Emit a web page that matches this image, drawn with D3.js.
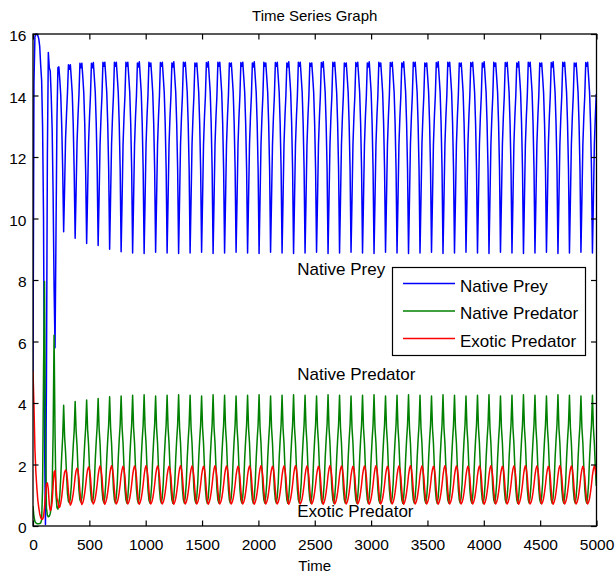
<!DOCTYPE html>
<html>
<head>
<meta charset="utf-8">
<script src="https://cdn.jsdelivr.net/npm/d3@7"></script>
<style>
  html, body { margin: 0; padding: 0; background: #fff; }
  svg { display: block; font-family: "Liberation Sans", Arial, Helvetica, sans-serif; }
</style>
</head>
<body>
<svg id="chart" width="615" height="581"></svg>
<script>
// Population samples on a uniform time grid (one value every timeStep units).
const timeStep = 8.5;

const preyValues = [
  5.0, 14.4, 15.9, 16.0, 16.0, 15.95, 15.85, 15.6, 15.0, 14.5, 13.0, 10.0, 3.0,
  0.05, 4.5, 12.0, 15.4, 14.9, 14.8, 14.0, 12.9, 10.8, 7.8, 5.8, 9.5, 13.2,
  14.9, 14.93, 14.5, 14.0, 13.0, 11.6, 9.57, 11.0, 12.6, 13.4, 14.1, 15.0,
  14.85, 15.0, 14.55, 14.05, 13.05, 11.5, 9.36, 10.9, 12.5, 13.35, 14.05, 15.05,
  14.9, 15.05, 14.6, 14.1, 13.1, 11.5, 9.19, 10.8, 12.45, 13.3, 14.0, 15.05,
  14.9, 15.07, 14.6, 14.1, 13.1, 11.6, 9.12, 10.7, 12.4, 13.3, 14.0, 15.08,
  14.95, 15.08, 14.6, 14.1, 13.1, 11.6, 9.0, 10.7, 12.4, 13.3, 14.0, 15.08,
  14.95, 15.08, 14.6, 14.1, 13.1, 11.6, 8.92, 10.6, 12.4, 13.3, 14.0, 15.08,
  14.95, 15.08, 14.6, 14.1, 13.1, 11.6, 8.88, 10.6, 12.4, 13.3, 14.0, 15.06,
  14.93, 15.1, 14.6, 14.1, 13.1, 11.6, 8.86, 10.6, 12.4, 13.3, 14.0, 15.08,
  14.95, 15.06, 14.6, 14.1, 13.1, 11.6, 8.9, 10.6, 12.4, 13.3, 14.0, 15.07,
  14.95, 15.08, 14.6, 14.1, 13.1, 11.6, 8.88, 10.6, 12.4, 13.3, 14.0, 15.06,
  14.93, 15.1, 14.6, 14.1, 13.1, 11.6, 8.86, 10.6, 12.4, 13.3, 14.0, 15.08,
  14.95, 15.08, 14.6, 14.1, 13.1, 11.6, 8.88, 10.6, 12.4, 13.3, 14.0, 15.06,
  14.95, 15.06, 14.6, 14.1, 13.1, 11.6, 8.9, 10.6, 12.4, 13.3, 14.0, 15.07,
  14.93, 15.1, 14.6, 14.1, 13.1, 11.6, 8.86, 10.6, 12.4, 13.3, 14.0, 15.08,
  14.95, 15.08, 14.6, 14.1, 13.1, 11.6, 8.88, 10.6, 12.4, 13.3, 14.0, 15.06,
  14.95, 15.06, 14.6, 14.1, 13.1, 11.6, 8.9, 10.6, 12.4, 13.3, 14.0, 15.07,
  14.95, 15.08, 14.6, 14.1, 13.1, 11.6, 8.88, 10.6, 12.4, 13.3, 14.0, 15.06,
  14.93, 15.1, 14.6, 14.1, 13.1, 11.6, 8.86, 10.6, 12.4, 13.3, 14.0, 15.08,
  14.95, 15.06, 14.6, 14.1, 13.1, 11.6, 8.9, 10.6, 12.4, 13.3, 14.0, 15.07,
  14.95, 15.08, 14.6, 14.1, 13.1, 11.6, 8.88, 10.6, 12.4, 13.3, 14.0, 15.06,
  14.93, 15.1, 14.6, 14.1, 13.1, 11.6, 8.86, 10.6, 12.4, 13.3, 14.0, 15.08,
  14.95, 15.08, 14.6, 14.1, 13.1, 11.6, 8.88, 10.6, 12.4, 13.3, 14.0, 15.06,
  14.95, 15.06, 14.6, 14.1, 13.1, 11.6, 8.9, 10.6, 12.4, 13.3, 14.0, 15.07,
  14.93, 15.1, 14.6, 14.1, 13.1, 11.6, 8.86, 10.6, 12.4, 13.3, 14.0, 15.08,
  14.95, 15.08, 14.6, 14.1, 13.1, 11.6, 8.88, 10.6, 12.4, 13.3, 14.0, 15.06,
  14.95, 15.06, 14.6, 14.1, 13.1, 11.6, 8.9, 10.6, 12.4, 13.3, 14.0, 15.07,
  14.95, 15.08, 14.6, 14.1, 13.1, 11.6, 8.88, 10.6, 12.4, 13.3, 14.0, 15.06,
  14.93, 15.1, 14.6, 14.1, 13.1, 11.6, 8.86, 10.6, 12.4, 13.3, 14.0, 15.08,
  14.95, 15.06, 14.6, 14.1, 13.1, 11.6, 8.9, 10.6, 12.4, 13.3, 14.0, 15.07,
  14.95, 15.08, 14.6, 14.1, 13.1, 11.6, 8.88, 10.6, 12.4, 13.3, 14.0, 15.06,
  14.93, 15.1, 14.6, 14.1, 13.1, 11.6, 8.86, 10.6, 12.4, 13.3, 14.0, 15.08,
  14.95, 15.08, 14.6, 14.1, 13.1, 11.6, 8.88, 10.6, 12.4, 13.3, 14.0, 15.06,
  14.95, 15.06, 14.6, 14.1, 13.1, 11.6, 8.9, 10.6, 12.4, 13.3, 14.0, 15.07,
  14.93, 15.1, 14.6, 14.1, 13.1, 11.6, 8.86, 10.6, 12.4, 13.3, 14.0, 15.08,
  14.95, 15.08, 14.6, 14.1, 13.1, 11.6, 8.88, 10.6, 12.4, 13.3, 14.0, 15.06,
  14.95, 15.06, 14.6, 14.1, 13.1, 11.6, 8.9, 10.6, 12.4, 13.3, 14.0, 15.07,
  14.95, 15.08, 14.6, 14.1, 13.1, 11.6, 8.88, 10.6, 12.4, 13.3, 14.0, 15.06,
  14.93, 15.1, 14.6, 14.1, 13.1, 11.6, 8.86, 10.6, 12.4, 13.3, 14.0, 15.08,
  14.95, 15.06, 14.6, 14.1, 13.1, 11.6, 8.9, 10.6, 12.4, 13.3, 14.0, 15.07,
  14.95, 15.08, 14.6, 14.1, 13.1, 11.6, 8.88, 10.6, 12.4, 13.3, 14.0, 15.06,
  14.93, 15.1, 14.6, 14.1, 13.1, 11.6, 8.86, 10.6, 12.4, 13.3, 14.0, 15.08,
  14.95, 15.08, 14.6, 14.1, 13.1, 11.6, 8.88, 10.6, 12.4, 13.3, 14.0, 15.06,
  14.95, 15.06, 14.6, 14.1, 13.1, 11.6, 8.9, 10.6, 12.4, 13.3, 14.0, 15.07,
  14.93, 15.1, 14.6, 14.1, 13.1, 11.6, 8.86, 10.6, 12.4, 13.3, 14.0, 15.08,
  14.95, 15.08, 14.6, 14.1, 13.1, 11.6, 8.88, 10.6, 12.4, 13.3, 14.0, 15.06,
  14.95, 15.06, 14.6, 14.1, 13.1, 11.6, 8.9, 10.6, 12.4, 13.3, 14.0, 15.07,
  14.95, 15.08, 14.6, 14.1, 13.1, 11.6, 8.88, 10.6, 12.4, 13.3, 14.05
];

const nativePredatorValues = [
  0.65, 0.3, 0.15, 0.1, 0.08, 0.07, 0.07, 0.08, 0.1, 0.2, 1.2, 5.0, 7.95,
  3.0, 0.6, 0.35, 0.3, 0.32, 0.4, 0.6, 1.2, 3.0, 6.2, 3.0, 1.0, 0.6,
  0.55, 0.7, 1.0, 1.6, 2.3, 2.9, 3.93, 2.9, 2.4, 1.7, 1.05, 0.8,
  0.75, 0.9, 1.3, 2.0, 2.6, 3.1, 4.05, 3.1, 2.6, 1.8, 1.15, 0.85,
  0.78, 0.92, 1.35, 2.1, 2.7, 3.2, 4.1, 3.15, 2.65, 1.85, 1.18, 0.85,
  0.77, 0.94, 1.38, 2.15, 2.75, 3.25, 4.15, 3.18, 2.68, 1.88, 1.2, 0.85,
  0.76, 0.95, 1.4, 2.2, 2.8, 3.3, 4.2, 3.2, 2.7, 1.9, 1.2, 0.85,
  0.75, 0.95, 1.4, 2.2, 2.8, 3.3, 4.23, 3.2, 2.7, 1.9, 1.2, 0.85,
  0.75, 0.95, 1.4, 2.2, 2.8, 3.3, 4.25, 3.2, 2.7, 1.9, 1.2, 0.85,
  0.74, 0.95, 1.4, 2.2, 2.8, 3.3, 4.27, 3.2, 2.7, 1.9, 1.2, 0.85,
  0.75, 0.95, 1.4, 2.2, 2.8, 3.3, 4.23, 3.2, 2.7, 1.9, 1.2, 0.85,
  0.75, 0.95, 1.4, 2.2, 2.8, 3.3, 4.25, 3.2, 2.7, 1.9, 1.2, 0.85,
  0.74, 0.95, 1.4, 2.2, 2.8, 3.3, 4.27, 3.2, 2.7, 1.9, 1.2, 0.85,
  0.75, 0.95, 1.4, 2.2, 2.8, 3.3, 4.25, 3.2, 2.7, 1.9, 1.2, 0.85,
  0.75, 0.95, 1.4, 2.2, 2.8, 3.3, 4.23, 3.2, 2.7, 1.9, 1.2, 0.85,
  0.74, 0.95, 1.4, 2.2, 2.8, 3.3, 4.27, 3.2, 2.7, 1.9, 1.2, 0.85,
  0.75, 0.95, 1.4, 2.2, 2.8, 3.3, 4.25, 3.2, 2.7, 1.9, 1.2, 0.85,
  0.75, 0.95, 1.4, 2.2, 2.8, 3.3, 4.23, 3.2, 2.7, 1.9, 1.2, 0.85,
  0.75, 0.95, 1.4, 2.2, 2.8, 3.3, 4.25, 3.2, 2.7, 1.9, 1.2, 0.85,
  0.74, 0.95, 1.4, 2.2, 2.8, 3.3, 4.27, 3.2, 2.7, 1.9, 1.2, 0.85,
  0.75, 0.95, 1.4, 2.2, 2.8, 3.3, 4.23, 3.2, 2.7, 1.9, 1.2, 0.85,
  0.75, 0.95, 1.4, 2.2, 2.8, 3.3, 4.25, 3.2, 2.7, 1.9, 1.2, 0.85,
  0.74, 0.95, 1.4, 2.2, 2.8, 3.3, 4.27, 3.2, 2.7, 1.9, 1.2, 0.85,
  0.75, 0.95, 1.4, 2.2, 2.8, 3.3, 4.25, 3.2, 2.7, 1.9, 1.2, 0.85,
  0.75, 0.95, 1.4, 2.2, 2.8, 3.3, 4.23, 3.2, 2.7, 1.9, 1.2, 0.85,
  0.74, 0.95, 1.4, 2.2, 2.8, 3.3, 4.27, 3.2, 2.7, 1.9, 1.2, 0.85,
  0.75, 0.95, 1.4, 2.2, 2.8, 3.3, 4.25, 3.2, 2.7, 1.9, 1.2, 0.85,
  0.75, 0.95, 1.4, 2.2, 2.8, 3.3, 4.23, 3.2, 2.7, 1.9, 1.2, 0.85,
  0.75, 0.95, 1.4, 2.2, 2.8, 3.3, 4.25, 3.2, 2.7, 1.9, 1.2, 0.85,
  0.74, 0.95, 1.4, 2.2, 2.8, 3.3, 4.27, 3.2, 2.7, 1.9, 1.2, 0.85,
  0.75, 0.95, 1.4, 2.2, 2.8, 3.3, 4.23, 3.2, 2.7, 1.9, 1.2, 0.85,
  0.75, 0.95, 1.4, 2.2, 2.8, 3.3, 4.25, 3.2, 2.7, 1.9, 1.2, 0.85,
  0.74, 0.95, 1.4, 2.2, 2.8, 3.3, 4.27, 3.2, 2.7, 1.9, 1.2, 0.85,
  0.75, 0.95, 1.4, 2.2, 2.8, 3.3, 4.25, 3.2, 2.7, 1.9, 1.2, 0.85,
  0.75, 0.95, 1.4, 2.2, 2.8, 3.3, 4.23, 3.2, 2.7, 1.9, 1.2, 0.85,
  0.74, 0.95, 1.4, 2.2, 2.8, 3.3, 4.27, 3.2, 2.7, 1.9, 1.2, 0.85,
  0.75, 0.95, 1.4, 2.2, 2.8, 3.3, 4.25, 3.2, 2.7, 1.9, 1.2, 0.85,
  0.75, 0.95, 1.4, 2.2, 2.8, 3.3, 4.23, 3.2, 2.7, 1.9, 1.2, 0.85,
  0.75, 0.95, 1.4, 2.2, 2.8, 3.3, 4.25, 3.2, 2.7, 1.9, 1.2, 0.85,
  0.74, 0.95, 1.4, 2.2, 2.8, 3.3, 4.27, 3.2, 2.7, 1.9, 1.2, 0.85,
  0.75, 0.95, 1.4, 2.2, 2.8, 3.3, 4.23, 3.2, 2.7, 1.9, 1.2, 0.85,
  0.75, 0.95, 1.4, 2.2, 2.8, 3.3, 4.25, 3.2, 2.7, 1.9, 1.2, 0.85,
  0.74, 0.95, 1.4, 2.2, 2.8, 3.3, 4.27, 3.2, 2.7, 1.9, 1.2, 0.85,
  0.75, 0.95, 1.4, 2.2, 2.8, 3.3, 4.25, 3.2, 2.7, 1.9, 1.2, 0.85,
  0.75, 0.95, 1.4, 2.2, 2.8, 3.3, 4.23, 3.2, 2.7, 1.9, 1.2, 0.85,
  0.74, 0.95, 1.4, 2.2, 2.8, 3.3, 4.27, 3.2, 2.7, 1.9, 1.2, 0.85,
  0.75, 0.95, 1.4, 2.2, 2.8, 3.3, 4.25, 3.2, 2.7, 1.9, 1.2, 0.85,
  0.75, 0.95, 1.4, 2.2, 2.8, 3.3, 4.23, 3.2, 2.7, 1.9, 1.2, 0.85,
  0.75, 0.95, 1.4, 2.2, 2.8, 3.3, 4.25, 3.2, 2.7, 1.9, 1.3
];

const exoticPredatorValues = [
  5.05, 3.9, 2.5, 1.75, 1.25, 0.85, 0.6, 0.4, 0.28, 0.22, 0.22, 0.3, 0.6,
  1.0, 1.35, 1.4, 1.2, 0.7, 0.5, 0.55, 0.8, 1.3, 1.75, 1.8, 1.3, 0.9,
  0.8, 0.6, 0.62, 0.75, 0.95, 1.25, 1.55, 1.75, 1.82, 1.75, 1.5, 1.1,
  0.8, 0.68, 0.74, 0.86, 1.05, 1.3, 1.6, 1.8, 1.88, 1.8, 1.55, 1.12,
  0.8, 0.7, 0.76, 0.88, 1.08, 1.33, 1.63, 1.83, 1.92, 1.83, 1.58, 1.14,
  0.8, 0.72, 0.78, 0.9, 1.1, 1.35, 1.65, 1.85, 1.95, 1.85, 1.6, 1.15,
  0.79, 0.71, 0.78, 0.9, 1.1, 1.35, 1.65, 1.86, 1.96, 1.85, 1.6, 1.15,
  0.8, 0.72, 0.78, 0.9, 1.1, 1.35, 1.65, 1.84, 1.94, 1.85, 1.6, 1.15,
  0.8, 0.72, 0.78, 0.9, 1.1, 1.35, 1.65, 1.85, 1.95, 1.85, 1.6, 1.15,
  0.79, 0.71, 0.78, 0.9, 1.1, 1.35, 1.65, 1.86, 1.96, 1.85, 1.6, 1.15,
  0.8, 0.72, 0.78, 0.9, 1.1, 1.35, 1.65, 1.85, 1.95, 1.85, 1.6, 1.15,
  0.8, 0.72, 0.78, 0.9, 1.1, 1.35, 1.65, 1.84, 1.94, 1.85, 1.6, 1.15,
  0.79, 0.71, 0.78, 0.9, 1.1, 1.35, 1.65, 1.86, 1.96, 1.85, 1.6, 1.15,
  0.8, 0.72, 0.78, 0.9, 1.1, 1.35, 1.65, 1.85, 1.95, 1.85, 1.6, 1.15,
  0.8, 0.72, 0.78, 0.9, 1.1, 1.35, 1.65, 1.84, 1.94, 1.85, 1.6, 1.15,
  0.79, 0.71, 0.78, 0.9, 1.1, 1.35, 1.65, 1.86, 1.96, 1.85, 1.6, 1.15,
  0.8, 0.72, 0.78, 0.9, 1.1, 1.35, 1.65, 1.85, 1.95, 1.85, 1.6, 1.15,
  0.8, 0.72, 0.78, 0.9, 1.1, 1.35, 1.65, 1.84, 1.94, 1.85, 1.6, 1.15,
  0.8, 0.72, 0.78, 0.9, 1.1, 1.35, 1.65, 1.85, 1.95, 1.85, 1.6, 1.15,
  0.79, 0.71, 0.78, 0.9, 1.1, 1.35, 1.65, 1.86, 1.96, 1.85, 1.6, 1.15,
  0.8, 0.72, 0.78, 0.9, 1.1, 1.35, 1.65, 1.84, 1.94, 1.85, 1.6, 1.15,
  0.8, 0.72, 0.78, 0.9, 1.1, 1.35, 1.65, 1.85, 1.95, 1.85, 1.6, 1.15,
  0.79, 0.71, 0.78, 0.9, 1.1, 1.35, 1.65, 1.86, 1.96, 1.85, 1.6, 1.15,
  0.8, 0.72, 0.78, 0.9, 1.1, 1.35, 1.65, 1.85, 1.95, 1.85, 1.6, 1.15,
  0.8, 0.72, 0.78, 0.9, 1.1, 1.35, 1.65, 1.84, 1.94, 1.85, 1.6, 1.15,
  0.79, 0.71, 0.78, 0.9, 1.1, 1.35, 1.65, 1.86, 1.96, 1.85, 1.6, 1.15,
  0.8, 0.72, 0.78, 0.9, 1.1, 1.35, 1.65, 1.85, 1.95, 1.85, 1.6, 1.15,
  0.8, 0.72, 0.78, 0.9, 1.1, 1.35, 1.65, 1.84, 1.94, 1.85, 1.6, 1.15,
  0.8, 0.72, 0.78, 0.9, 1.1, 1.35, 1.65, 1.85, 1.95, 1.85, 1.6, 1.15,
  0.79, 0.71, 0.78, 0.9, 1.1, 1.35, 1.65, 1.86, 1.96, 1.85, 1.6, 1.15,
  0.8, 0.72, 0.78, 0.9, 1.1, 1.35, 1.65, 1.84, 1.94, 1.85, 1.6, 1.15,
  0.8, 0.72, 0.78, 0.9, 1.1, 1.35, 1.65, 1.85, 1.95, 1.85, 1.6, 1.15,
  0.79, 0.71, 0.78, 0.9, 1.1, 1.35, 1.65, 1.86, 1.96, 1.85, 1.6, 1.15,
  0.8, 0.72, 0.78, 0.9, 1.1, 1.35, 1.65, 1.85, 1.95, 1.85, 1.6, 1.15,
  0.8, 0.72, 0.78, 0.9, 1.1, 1.35, 1.65, 1.84, 1.94, 1.85, 1.6, 1.15,
  0.79, 0.71, 0.78, 0.9, 1.1, 1.35, 1.65, 1.86, 1.96, 1.85, 1.6, 1.15,
  0.8, 0.72, 0.78, 0.9, 1.1, 1.35, 1.65, 1.85, 1.95, 1.85, 1.6, 1.15,
  0.8, 0.72, 0.78, 0.9, 1.1, 1.35, 1.65, 1.84, 1.94, 1.85, 1.6, 1.15,
  0.8, 0.72, 0.78, 0.9, 1.1, 1.35, 1.65, 1.85, 1.95, 1.85, 1.6, 1.15,
  0.79, 0.71, 0.78, 0.9, 1.1, 1.35, 1.65, 1.86, 1.96, 1.85, 1.6, 1.15,
  0.8, 0.72, 0.78, 0.9, 1.1, 1.35, 1.65, 1.84, 1.94, 1.85, 1.6, 1.15,
  0.8, 0.72, 0.78, 0.9, 1.1, 1.35, 1.65, 1.85, 1.95, 1.85, 1.6, 1.15,
  0.79, 0.71, 0.78, 0.9, 1.1, 1.35, 1.65, 1.86, 1.96, 1.85, 1.6, 1.15,
  0.8, 0.72, 0.78, 0.9, 1.1, 1.35, 1.65, 1.85, 1.95, 1.85, 1.6, 1.15,
  0.8, 0.72, 0.78, 0.9, 1.1, 1.35, 1.65, 1.84, 1.94, 1.85, 1.6, 1.15,
  0.79, 0.71, 0.78, 0.9, 1.1, 1.35, 1.65, 1.86, 1.96, 1.85, 1.6, 1.15,
  0.8, 0.72, 0.78, 0.9, 1.1, 1.35, 1.65, 1.85, 1.95, 1.85, 1.6, 1.15,
  0.8, 0.72, 0.78, 0.9, 1.1, 1.35, 1.65, 1.84, 1.94, 1.85, 1.6, 1.15,
  0.8, 0.72, 0.78, 0.9, 1.1, 1.35, 1.65, 1.85, 1.95, 1.85, 1.65
];

const seriesNames = ["Native Prey", "Native Predator", "Exotic Predator"];
const seriesColors = ["#0000ff", "#008000", "#ff0000"];
const xTicks = [0, 500, 1000, 1500, 2000, 2500, 3000, 3500, 4000, 4500, 5000];
const yTicks = [0, 2, 4, 6, 8, 10, 12, 14, 16];
const chartTitle = "Time Series Graph";
const xLabel = "Time";
// In-plot labels, anchored in data coordinates (time, population).
const noteLabels = ["Native Prey", "Native Predator", "Exotic Predator"];
const noteTimes = [2345, 2345, 2345];
const noteLevels = [8.16, 4.75, 0.28];

// ---- layout ----
const W = 615, H = 581;
const plot = { left: 33, right: 596.5, top: 34, bottom: 526 };
const tickLen = 5.5;
const tickFont = 15.5;

const svg = d3.select("#chart");
svg.append("rect").attr("width", W).attr("height", H).attr("fill", "#fff");

const x = d3.scaleLinear().domain([0, 5000]).range([plot.left, plot.right]);
const y = d3.scaleLinear().domain([0, 16]).range([plot.bottom, plot.top]);

const time = preyValues.map((_, i) => i * timeStep);
const series = [preyValues, nativePredatorValues, exoticPredatorValues];

svg.append("clipPath").attr("id", "plot-clip")
  .append("rect")
  .attr("x", plot.left).attr("y", plot.top - 1)
  .attr("width", plot.right - plot.left).attr("height", plot.bottom - plot.top + 1);

const line = d3.line()
  .x((d, i) => x(time[i]))
  .y(d => y(d));

const lines = svg.append("g").attr("clip-path", "url(#plot-clip)");
series.forEach((vals, s) => {
  lines.append("path")
    .datum(vals)
    .attr("d", line)
    .attr("fill", "none")
    .attr("stroke", seriesColors[s])
    .attr("stroke-width", 1.5)
    .attr("stroke-linejoin", "round");
});

// ---- axes (ticks point inward on all four sides) ----
function styleAxis(g) {
  g.select(".domain").remove();
  g.selectAll(".tick line").attr("stroke", "#000").attr("stroke-width", 1.2);
  g.selectAll(".tick text").attr("fill", "#000").style("font-size", tickFont + "px")
    .style("font-family", '"Liberation Sans", Arial, sans-serif');
}

svg.append("g")
  .attr("transform", `translate(0,${plot.bottom})`)
  .call(d3.axisBottom(x).tickValues(xTicks).tickFormat(d3.format("d"))
    .tickSizeInner(-tickLen).tickSizeOuter(0).tickPadding(13))
  .call(styleAxis);

svg.append("g")
  .attr("transform", `translate(0,${plot.top})`)
  .call(d3.axisTop(x).tickValues(xTicks).tickFormat("")
    .tickSizeInner(-tickLen).tickSizeOuter(0))
  .call(styleAxis);

svg.append("g")
  .attr("transform", `translate(${plot.left},0)`)
  .call(d3.axisLeft(y).tickValues(yTicks).tickFormat(d3.format("d"))
    .tickSizeInner(-tickLen).tickSizeOuter(0).tickPadding(6.5))
  .call(styleAxis)
  .call(g => g.selectAll(".tick text").attr("dy", "0.42em"));

svg.append("g")
  .attr("transform", `translate(${plot.right},0)`)
  .call(d3.axisRight(y).tickValues(yTicks).tickFormat("")
    .tickSizeInner(-tickLen).tickSizeOuter(0))
  .call(styleAxis);

// plot frame
svg.append("rect")
  .attr("x", plot.left).attr("y", plot.top)
  .attr("width", plot.right - plot.left).attr("height", plot.bottom - plot.top)
  .attr("fill", "none").attr("stroke", "#000").attr("stroke-width", 1.3);

// ---- titles ----
const midX = (plot.left + plot.right) / 2;
svg.append("text")
  .attr("x", midX).attr("y", 20.5)
  .attr("text-anchor", "middle")
  .style("font-size", "15px")
  .text(chartTitle);

svg.append("text")
  .attr("x", midX).attr("y", 571)
  .attr("text-anchor", "middle")
  .style("font-size", "15px")
  .text(xLabel);

// ---- in-plot labels ----
noteLabels.forEach((label, i) => {
  svg.append("text")
    .attr("x", x(noteTimes[i]))
    .attr("y", y(noteLevels[i]))
    .style("font-size", "17px")
    .text(label);
});

// ---- legend ----
const legend = { x: 392.5, y: 267.5, w: 193, h: 88, rowY: [283.5, 311, 338.5] };
const lg = svg.append("g");
lg.append("rect")
  .attr("x", legend.x).attr("y", legend.y)
  .attr("width", legend.w).attr("height", legend.h)
  .attr("fill", "#fff").attr("stroke", "#000").attr("stroke-width", 1.2);
seriesNames.forEach((name, i) => {
  lg.append("line")
    .attr("x1", legend.x + 10.5).attr("x2", legend.x + 62.5)
    .attr("y1", legend.rowY[i]).attr("y2", legend.rowY[i])
    .attr("stroke", seriesColors[i]).attr("stroke-width", 1.3);
  lg.append("text")
    .attr("x", legend.x + 67.5)
    .attr("y", legend.rowY[i] + 8)
    .style("font-size", "17px")
    .text(name);
});
</script>
</body>
</html>
